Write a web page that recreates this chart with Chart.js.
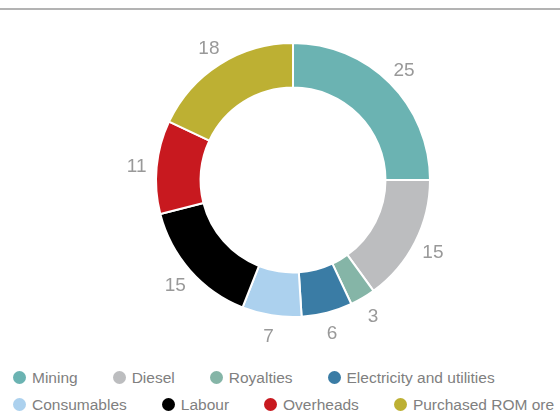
<!DOCTYPE html>
<html>
<head>
<meta charset="utf-8">
<script src="https://cdn.jsdelivr.net/npm/chart.js@4.4.1/dist/chart.umd.min.js"></script>
<style>
  html, body { margin: 0; padding: 0; background: #fff; }
  #wrap { position: relative; width: 560px; height: 412px; overflow: hidden; font-family: "Liberation Sans", Arial, sans-serif; }
  #topRule { position: absolute; left: 0; top: 8px; width: 560px; height: 2px; background: #b3b3b3; }
  #chartBox { position: absolute; left: 0; top: 0; width: 560px; height: 360px; }
  #legend { position: absolute; left: 13px; top: 364px; color: #808080; font-size: 15.5px; }
  .row { display: flex; align-items: center; height: 27px; white-space: nowrap; }
  .item { display: flex; align-items: center; margin-right: 35px; }
  .dot { width: 13px; height: 13px; border-radius: 50%; margin-right: 6px; flex: none; }
</style>
</head>
<body>
<div id="wrap">
  <div id="topRule"></div>
  <div id="chartBox"><canvas id="costChart"></canvas></div>
  <div id="legend"></div>
</div>
<script>
const categories = ['Mining', 'Diesel', 'Royalties', 'Electricity and utilities',
                    'Consumables', 'Labour', 'Overheads', 'Purchased ROM ore'];
const costShares = [25, 15, 3, 6, 7, 15, 11, 18];
const sliceColours = ['#6bb3b2', '#bcbdbf', '#85b5a7', '#3a7ca5',
                      '#acd1ee', '#000000', '#c8191f', '#bdb033'];
const legendPerRow = 4;

// value labels just outside the ring
const outsideLabels = {
    id: 'outsideLabels',
    afterDatasetsDraw(chart) {
        const ctx = chart.ctx;
        const meta = chart.getDatasetMeta(0);
        const size = 19;
        ctx.save();
        ctx.font = size + 'px "Liberation Sans", Arial, sans-serif';
        ctx.fillStyle = '#999999';
        ctx.textAlign = 'center';
        ctx.textBaseline = 'alphabetic';
        meta.data.forEach((arc, i) => {
            const p = arc.getProps(['x', 'y', 'startAngle', 'endAngle', 'outerRadius'], true);
            const mid = (p.startAngle + p.endAngle) / 2;
            const r = p.outerRadius + 20;
            const px = p.x + Math.cos(mid) * r;
            const py = p.y + Math.sin(mid) * r;
            ctx.fillText(String(chart.data.datasets[0].data[i]), px, py + size * 0.36);
        });
        ctx.restore();
    }
};

const costChart = new Chart(document.getElementById('costChart'), {
    type: 'doughnut',
    data: {
        labels: categories,
        datasets: [{
            data: costShares,
            backgroundColor: sliceColours,
            borderColor: '#ffffff',
            borderWidth: 2,
            hoverOffset: 0
        }]
    },
    options: {
        responsive: true,
        maintainAspectRatio: false,
        animation: false,
        cutout: '67.5%',
        layout: {
            padding: { top: 42, bottom: 42, left: 26, right: 0 }
        },
        plugins: {
            legend: { display: false },
            tooltip: { enabled: false }
        }
    },
    plugins: [outsideLabels]
});

function buildLegend(chart) {
    const box = document.getElementById('legend');
    const labels = chart.data.labels;
    const colours = chart.data.datasets[0].backgroundColor;
    let row = null;
    labels.forEach((name, i) => {
        if (i % legendPerRow === 0) {
            row = document.createElement('div');
            row.className = 'row';
            box.appendChild(row);
        }
        const item = document.createElement('div');
        item.className = 'item';
        const dot = document.createElement('span');
        dot.className = 'dot';
        dot.style.background = colours[i];
        const txt = document.createElement('span');
        txt.textContent = name;
        item.appendChild(dot);
        item.appendChild(txt);
        row.appendChild(item);
    });
}
buildLegend(costChart);
</script>
</body>
</html>
